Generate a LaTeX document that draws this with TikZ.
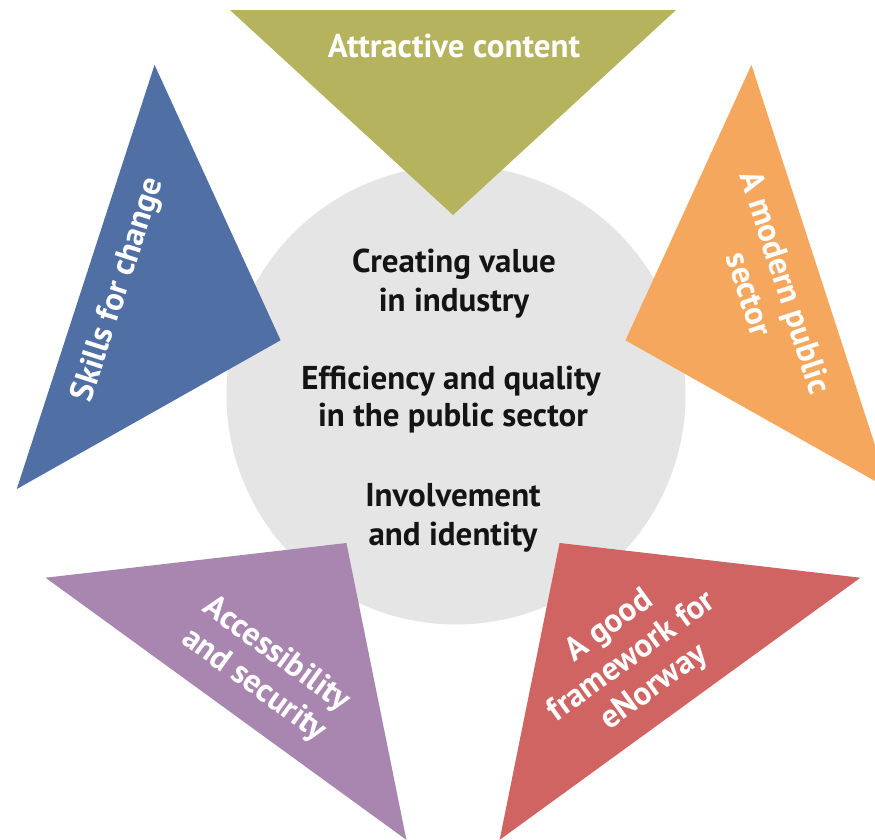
\documentclass[tikz,border=0pt]{standalone}
\usepackage{fontspec}
\setmainfont{PT Sans}
\usetikzlibrary{calc}
\definecolor{cOlive}{HTML}{B5B35D}
\definecolor{cBlue}{HTML}{4F6FA5}
\definecolor{cOrange}{HTML}{F6A75E}
\definecolor{cPurple}{HTML}{A886B0}
\definecolor{cRed}{HTML}{D06462}
\definecolor{cGray}{HTML}{E6E5E5}
\definecolor{cInk}{HTML}{141414}
\tikzset{
  lbl/.style={text=white, inner sep=0pt, font=\fontsize{33}{38}\selectfont\bfseries},
  mid/.style={text=cInk, inner sep=0pt, anchor=base, font=\fontsize{33}{38}\selectfont\bfseries},
}
\begin{document}
\begin{tikzpicture}[x=1pt,y=1pt]
\useasboundingbox (0,-839) rectangle (875,0);
\coordinate (C) at (453,-396.3);
\fill[cGray] (456,-395) circle (229.5);
\foreach \a/\c/\n in {90/cOlive/top,162/cBlue/blue,18/cOrange/orange,234/cPurple/purple,306/cRed/red}{
  \coordinate (\n-tip) at ($(C)+(\a:181.3)$);
  \coordinate (\n-o1) at ($(C)+(\a-30:446)$);
  \coordinate (\n-o2) at ($(C)+(\a+30:446)$);
  \fill[\c] (\n-tip) -- (\n-o1) -- (\n-o2) -- cycle;
}
\node[lbl, anchor=base] (t0) at (454,-57) {Attractive content};
\node[lbl, rotate=72] (t1) at (119,-290) {Skills for change};
\node[lbl, rotate=-72, align=center] (t2) at (768,-288) {A modern public\\sector};
\node[lbl, rotate=-36, align=center] (t3) at (265,-670) {Accessibility\\and security};
\node[lbl, rotate=36, align=center] (t4) at (632,-657) {A good\\framework for\\eNorway};
\node[mid] (m1) at (454,-272.7) {Creating value};
\node[mid] (m2) at (454,-311) {in industry};
\node[mid] (m3) at (451,-389) {Efficiency and quality};
\node[mid] (m4) at (453,-426.7) {in the public sector};
\node[mid] (m5) at (453,-506.7) {Involvement};
\node[mid] (m6) at (453,-545) {and identity};
\end{tikzpicture}
\end{document}
